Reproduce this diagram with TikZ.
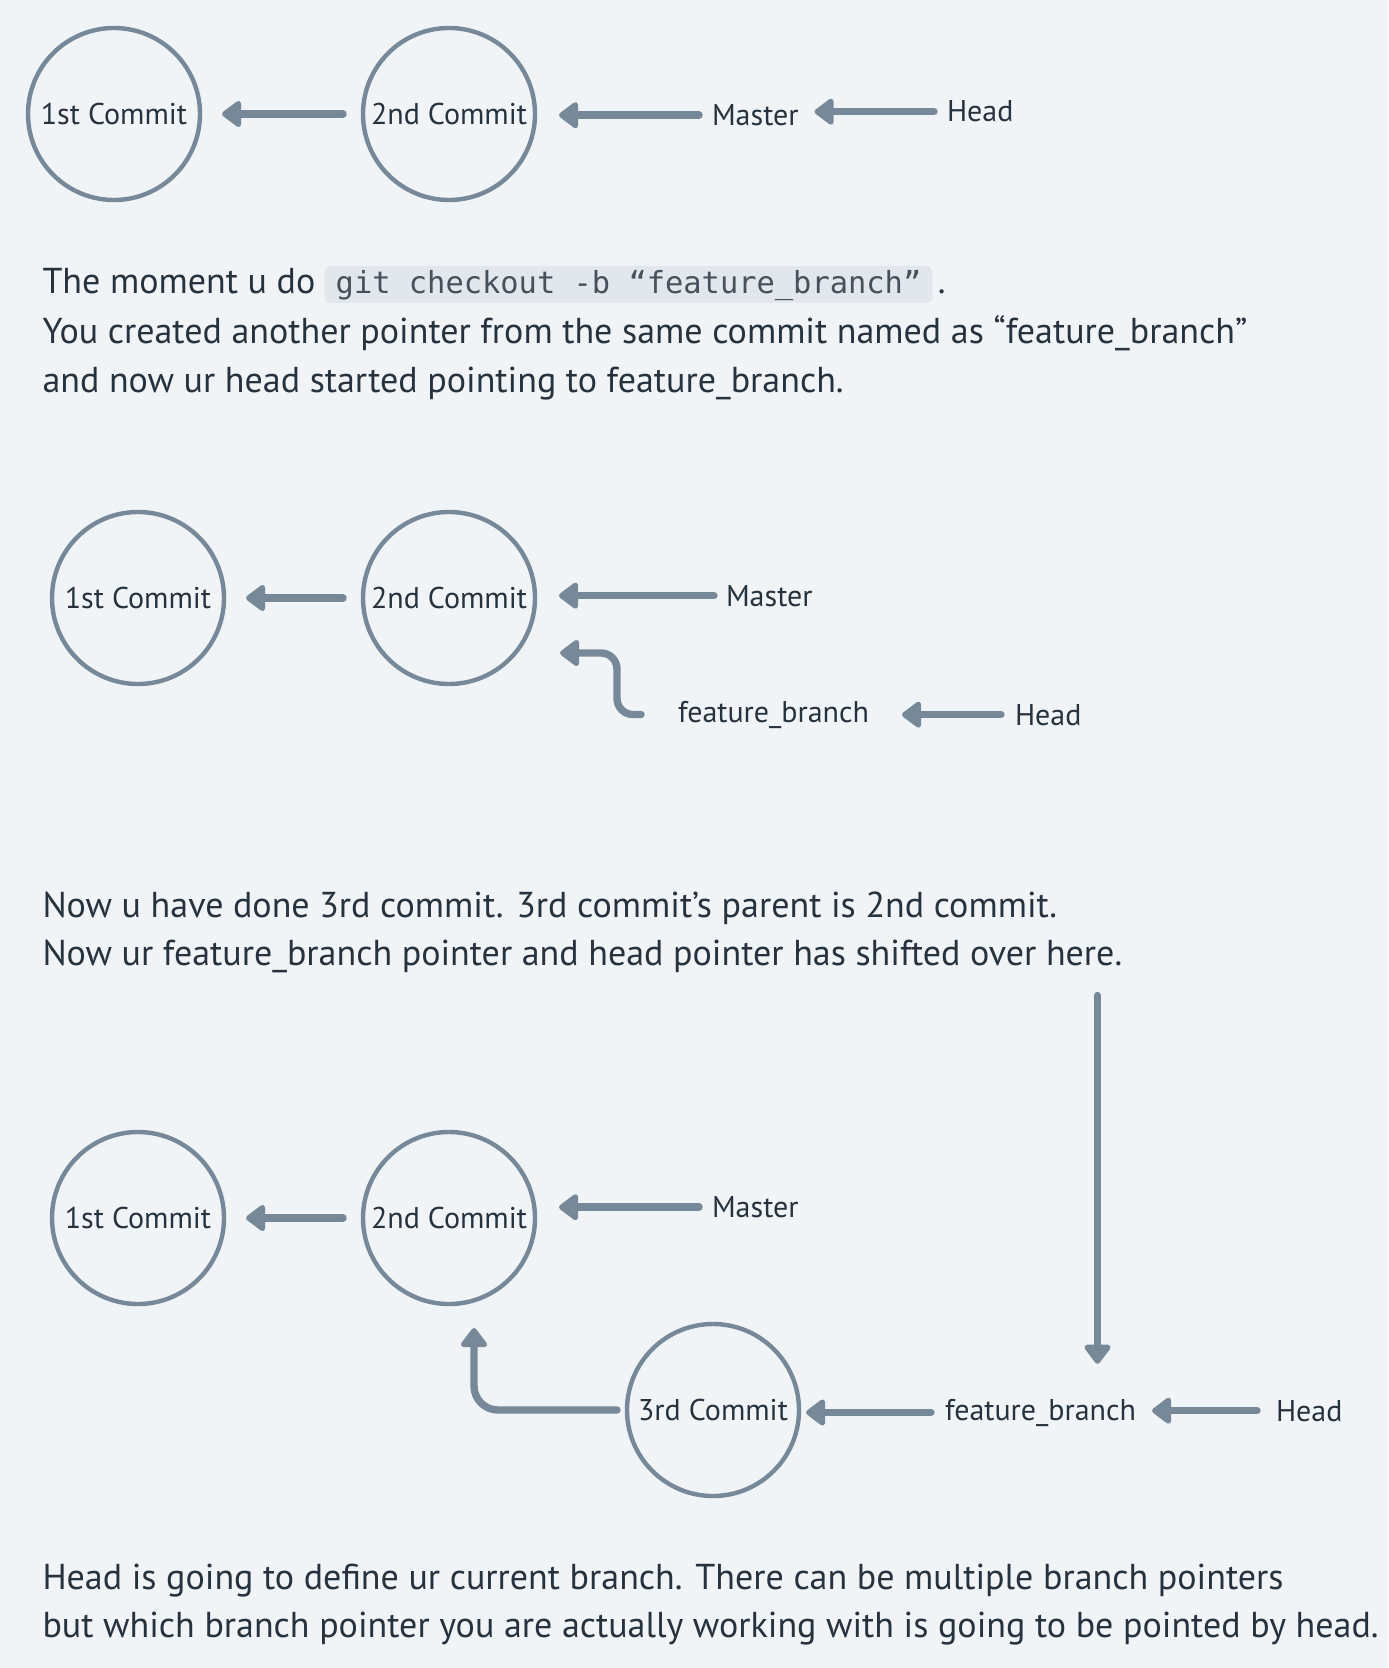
\documentclass[tikz,border=0pt]{standalone}
\usepackage{fontspec}
\setmainfont{PT Sans}
\newfontfamily\codefont{DejaVu Sans Mono}
\usetikzlibrary{arrows.meta}
\definecolor{bg}{HTML}{F0F4F7}
\definecolor{ink}{HTML}{778899}
\definecolor{txt}{HTML}{26323E}
\definecolor{codebg}{HTML}{E1E7EC}
\begin{document}
\begin{tikzpicture}[x=0.5pt,y=-0.5pt,
  commit/.style={circle, draw=ink, line width=2.2pt, minimum size=86pt, inner sep=0pt, outer sep=0pt, font=\fontsize{15}{18}\selectfont, text=txt},
  lbl/.style={inner sep=0pt, outer sep=0pt, font=\fontsize{15}{18}\selectfont, text=txt, anchor=base west},
  body/.style={inner sep=0pt, outer sep=0pt, font=\fontsize{18}{22}\selectfont, text=txt, anchor=base west},
  codebox/.style={fill=codebg, rounded corners=3pt, inner xsep=5.5pt, inner ysep=0pt, text height=14pt, text depth=4.5pt, font=\codefont\fontsize{15.2}{18}\selectfont, text=txt!85, anchor=base west},
  arr/.style={draw=ink, line width=3.7pt, line cap=round, -{Triangle[length=10.5pt,width=15pt,round]}},
]
\fill[bg] (0,0) rectangle (1388,1668);
\useasboundingbox (0,0) rectangle (1388,1668);

% ---- Row 1 ----
\node[commit] (a1) at (114,114) {1st Commit};
\node[commit] (a2) at (449,114) {2nd Commit};
\node[lbl] (am) at (712,125.5) {Master};
\node[lbl] (ah) at (947,122) {Head};
\draw[arr, shorten <=10pt, shorten >=11pt] (a2.west) -- (a1.east);
\draw[arr, shorten <=6.5pt, shorten >=12pt] (am.west) -- (a2.east |- am.west);
\draw[arr, shorten <=6.5pt, shorten >=8pt] (ah.west) -- (am.east |- ah.west);

% ---- Text 1 ----
\node[body] (t1) at (42.5,294) {The moment u do};
\node[codebox] (code) at ([xshift=4.5pt]t1.base east) {git checkout -b “feature\_branch”};
\node[body] (t1b) at ([xshift=2.5pt]code.base east) {.};
\node[body] (t2) at (42.5,344) {You created another pointer from the same commit named as “feature\_branch”};
\node[body] (t3) at (42.5,393) {and now ur head started pointing to feature\_branch.};

% ---- Row 2 ----
\node[commit] (b1) at (138,598) {1st Commit};
\node[commit] (b2) at (449,598) {2nd Commit};
\node[lbl] (bm) at (726,606) {Master};
\node[lbl] (bf) at (678,722) {feature\_branch};
\node[lbl] (bh) at (1015,725) {Head};
\draw[arr, shorten <=10pt, shorten >=11pt] (b2.west) -- (b1.east);
\draw[arr, shorten <=6pt, shorten >=12pt] (bm.west) -- (b2.east |- bm.west);
\draw[arr, shorten <=7pt, shorten >=16.5pt] (bh.west) -- (bf.east |- bh.west);
\draw[arr, rounded corners=8pt] ([xshift=-18.5pt]bf.west) -- ++(-12pt,0) |- ([xshift=12.5pt,yshift=-27.5pt]b2.east);

% ---- Text 2 ----
\node[body] (u1) at (42.5,917) {Now u have done 3rd commit. 3rd commit’s parent is 2nd commit.};
\node[body] (u2) at (42.5,965) {Now ur feature\_branch pointer and head pointer has shifted over here.};

% ---- Row 3 ----
\node[commit] (c1) at (138,1218) {1st Commit};
\node[commit] (c2) at (449,1218) {2nd Commit};
\node[commit] (c3) at (713,1410) {3rd Commit};
\node[lbl] (cm) at (712,1217.5) {Master};
\node[lbl] (cf) at (945,1420) {feature\_branch};
\node[lbl] (ch) at (1276,1421) {Head};
\coordinate (vtop) at (1097.5,995.5);
\draw[arr, shorten <=10pt, shorten >=11pt] (c2.west) -- (c1.east);
\draw[arr, shorten <=6.5pt, shorten >=12pt] (cm.west) -- (c2.east |- cm.west);
\draw[arr, shorten <=7pt, shorten >=3.5pt] (cf.west) -- (c3.east |- cf.west);
\draw[arr, shorten <=9.5pt, shorten >=8pt] (ch.west) -- (cf.east |- ch.west);
\draw[arr, rounded corners=12pt] ([xshift=-5pt]c3.west) -| ([xshift=12.5pt,yshift=-12pt]c2.south);
\draw[arr, shorten >=17.5pt] (vtop) -- (vtop |- cf.north);

% ---- Text 3 ----
\node[body] (v1) at (42.5,1589) {Head is going to define ur current branch. There can be multiple branch pointers};
\node[body] (v2) at (42.5,1637) {but which branch pointer you are actually working with is going to be pointed by head.};
\end{tikzpicture}
\end{document}
